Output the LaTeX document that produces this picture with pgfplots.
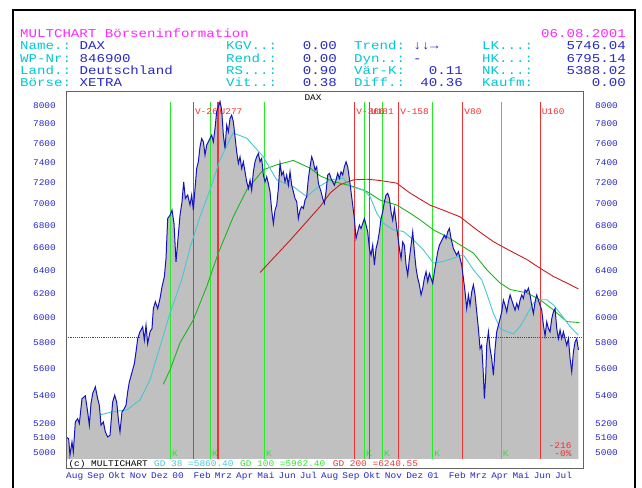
\documentclass[border=0pt]{standalone}
\usepackage{fontspec}
\usepackage{pgfplots}
\usepackage{pgfplotstable}
\pgfplotsset{compat=1.18}
\newfontfamily\hdrfont[FakeStretch=1.18]{Liberation Mono}
\newfontfamily\smfont[FakeStretch=1.09]{Liberation Mono}
\newcommand{\hdr}{\hdrfont\fontsize{12}{14}\selectfont}
\newcommand{\sm}{\smfont\fontsize{8.7}{10}\selectfont}
\definecolor{mcMag}{RGB}{255,40,255}
\definecolor{mcCyan}{RGB}{0,200,210}
\definecolor{mcBlue}{RGB}{40,40,200}
\definecolor{mcPrice}{RGB}{20,20,190}
\definecolor{mcGray}{RGB}{192,192,192}
\definecolor{mcGDa}{RGB}{70,200,210}
\definecolor{mcGDb}{RGB}{30,180,30}
\definecolor{mcGDc}{RGB}{200,30,30}
\definecolor{mcVGreen}{RGB}{40,235,40}
\definecolor{mcVRed}{RGB}{240,50,50}
\definecolor{mcFrame}{RGB}{100,100,100}

% DAX close, x = months since 1 Aug 1999
\pgfplotstableread{
m v
0.000 5107
0.125 5095
0.188 4982
0.282 5073
0.345 5005
0.439 5212
0.549 5235
0.627 5200
0.753 5379
0.910 5399
1.020 5283
1.098 5189
1.176 5343
1.255 5416
1.380 5465
1.490 5379
1.569 5331
1.647 5189
1.757 5212
1.851 5142
1.961 5107
2.071 5119
2.196 5355
2.290 5404
2.384 5355
2.478 5212
2.541 5142
2.635 5283
2.745 5307
2.824 5331
2.902 5428
2.980 5502
3.090 5565
3.216 5640
3.294 5730
3.373 5834
3.482 5888
3.608 5928
3.686 5822
3.765 5941
3.843 5795
3.953 5888
4.047 5914
4.110 6076
4.204 6132
4.314 6076
4.424 6160
4.518 6257
4.627 6343
4.706 6502
4.784 6863
4.894 6894
4.988 6942
5.082 6817
5.176 6473
5.271 6680
5.365 6894
5.459 7021
5.537 7213
5.616 7052
5.725 7085
5.835 6990
5.914 7085
5.992 6942
6.071 7148
6.149 7345
6.227 7411
6.306 7563
6.384 7648
6.463 7614
6.541 7479
6.620 7580
6.698 7614
6.776 7648
6.855 7684
6.933 7614
7.012 7753
7.090 7930
7.169 7985
7.247 8039
7.325 7949
7.404 7684
7.482 7546
7.561 7788
7.639 7718
7.718 7859
7.796 7895
7.875 7823
7.953 7666
8.031 7512
8.110 7394
8.188 7462
8.267 7345
8.345 7411
8.424 7312
8.502 7213
8.580 7148
8.659 7229
8.737 7132
8.816 7312
8.894 7411
8.973 7462
9.051 7495
9.129 7411
9.208 7445
9.286 7279
9.365 7213
9.443 7262
9.522 7196
9.600 7116
9.678 6942
9.757 6817
9.835 6942
9.914 6990
9.992 7148
10.071 7394
10.149 7279
10.227 7312
10.306 7213
10.384 7279
10.463 7180
10.541 7312
10.620 7180
10.698 7116
10.776 7052
10.855 7021
10.933 6863
11.012 6942
11.090 6974
11.169 6958
11.247 7037
11.325 7068
11.404 7245
11.482 7361
11.561 7462
11.639 7411
11.718 7328
11.796 7361
11.875 7196
11.953 7148
12.000 7116
12.078 7052
12.157 7005
12.235 7116
12.314 7279
12.392 7295
12.471 7245
12.549 7213
12.627 7180
12.706 7229
12.784 7295
12.863 7245
12.941 7312
13.020 7279
13.098 7361
13.176 7411
13.255 7361
13.333 7245
13.412 7116
13.490 6990
13.569 6863
13.647 6680
13.725 6741
13.804 6802
13.882 6771
13.961 6817
14.039 6863
14.118 6802
14.196 6741
14.275 6590
14.353 6531
14.431 6620
14.510 6445
14.588 6590
14.667 6650
14.745 6741
14.824 6863
14.902 6926
14.980 7021
15.059 7085
15.137 7101
15.216 7052
15.294 6926
15.373 6848
15.451 6958
15.529 6832
15.608 6710
15.686 6590
15.765 6502
15.843 6650
15.922 6620
16.000 6445
16.078 6357
16.157 6502
16.235 6620
16.314 6741
16.392 6561
16.471 6416
16.549 6331
16.627 6274
16.706 6189
16.784 6246
16.863 6331
16.941 6386
17.020 6300
17.098 6371
17.176 6331
17.255 6286
17.333 6386
17.412 6473
17.490 6561
17.569 6620
17.647 6650
17.725 6680
17.804 6710
17.882 6680
17.961 6741
18.039 6771
18.118 6680
18.227 6590
18.306 6561
18.384 6531
18.463 6561
18.541 6502
18.620 6445
18.698 6331
18.776 6215
18.855 6076
18.933 6189
19.012 6104
19.090 6215
19.169 6274
19.247 6189
19.325 6049
19.404 5914
19.482 5755
19.561 5781
19.639 5552
19.686 5379
19.749 5552
19.796 5781
19.875 5888
19.953 5755
20.031 5678
20.110 5552
20.188 5755
20.267 5888
20.345 5941
20.424 5994
20.502 6049
20.580 6146
20.659 6104
20.737 6049
20.816 6132
20.894 6189
20.973 6146
21.051 6104
21.129 6063
21.208 6118
21.286 6076
21.365 6146
21.443 6189
21.522 6160
21.600 6232
21.678 6215
21.757 6246
21.835 6189
21.914 6104
21.992 6035
22.071 6132
22.149 6189
22.227 6146
22.306 6104
22.384 6063
22.463 5941
22.541 5856
22.620 5968
22.698 5914
22.776 5888
22.855 5994
22.933 6049
23.012 6076
23.090 5914
23.169 5834
23.247 5902
23.325 5834
23.404 5888
23.482 5834
23.561 5781
23.639 5834
23.718 5678
23.796 5578
23.875 5730
23.953 5809
24.031 5834
24.110 5746
}\price

% GD 38
\pgfplotstableread{
m v
1.600 5262
2.212 5285
2.856 5297
3.482 5369
3.953 5517
4.424 5772
4.894 6038
5.445 6317
5.835 6597
6.306 6881
6.776 7135
7.247 7432
7.859 7705
8.504 7652
9.271 7465
9.915 7232
10.682 7167
11.327 7070
11.798 7152
12.424 7232
13.049 7249
13.365 7167
13.991 7135
14.306 7070
14.621 6914
14.932 6821
15.402 6759
15.873 6744
16.344 6668
16.814 6578
17.285 6462
17.755 6476
18.226 6505
18.696 6534
19.167 6404
19.562 6317
19.798 6199
20.108 6038
20.424 5917
20.739 5890
21.049 5872
21.365 5930
21.680 6024
21.991 6121
22.306 6149
22.621 6149
22.932 6107
23.247 6038
23.718 5930
24.108 5860
}\gda

% GD 100
\pgfplotstableread{
m v
4.579 5485
4.894 5592
5.365 5801
5.991 5984
6.621 6260
7.167 6550
7.873 6881
8.504 7135
9.285 7332
9.915 7381
10.696 7425
11.482 7348
11.953 7271
12.579 7216
13.520 7167
14.151 7119
14.776 7037
15.562 6990
16.188 6914
16.659 6851
17.285 6759
17.915 6698
18.541 6623
19.167 6550
19.798 6404
20.424 6290
20.894 6235
21.680 6207
22.306 6149
22.932 6065
23.562 5970
24.155 5962
}\gdb

% GD 200
\pgfplotstableread{
m v
9.129 6380
10.541 6663
11.953 6974
12.424 7104
12.894 7184
13.520 7232
14.151 7239
14.776 7226
15.562 7200
16.188 7104
17.129 6988
17.755 6941
18.541 6879
19.327 6759
20.108 6652
20.739 6586
21.680 6493
22.306 6417
22.932 6346
23.562 6290
24.108 6240
}\gdc

\begin{document}
\begin{tikzpicture}
\useasboundingbox (0,0) rectangle (642bp,-488bp);
\fill[white] (0,0) rectangle (642bp,-488bp);
\draw[black, line width=1.5bp] (13bp,-488bp) -- (13bp,-10bp) -- (635bp,-10bp) -- (635bp,-488bp);

% header
\newcommand{\hl}[4]{\node[anchor=base west,inner sep=0pt,text=#3,font=\hdr] at (#1bp,-#2bp) {#4};}
\newcommand{\hr}[4]{\node[anchor=base east,inner sep=0pt,text=#3,font=\hdr] at (#1bp,-#2bp) {#4};}
\hl{20}{37.3}{mcMag}{MULTCHART Börseninformation}
\hr{626}{37.3}{mcMag}{06.08.2001}
\hl{20}{49.5}{mcCyan}{Name.:}  \hl{79.5}{49.5}{mcBlue}{DAX}
\hl{20}{62.3}{mcCyan}{WP-Nr:}  \hl{79.5}{62.3}{mcBlue}{846900}
\hl{20}{74.7}{mcCyan}{Land.:}  \hl{79.5}{74.7}{mcBlue}{Deutschland}
\hl{20}{86.5}{mcCyan}{Börse:}  \hl{79.5}{86.5}{mcBlue}{XETRA}
\hl{226}{49.5}{mcCyan}{KGV..:} \hr{337}{49.5}{mcBlue}{0.00}
\hl{226}{62.3}{mcCyan}{Rend.:} \hr{337}{62.3}{mcBlue}{0.00}
\hl{226}{74.7}{mcCyan}{RS...:} \hr{337}{74.7}{mcBlue}{0.90}
\hl{226}{86.5}{mcCyan}{Vit..:} \hr{337}{86.5}{mcBlue}{0.38}
\hl{354}{49.5}{mcCyan}{Trend:} \hl{413}{49.5}{mcBlue}{↓↓→}
\hl{354}{62.3}{mcCyan}{Dyn..:} \hl{413}{62.3}{mcBlue}{-}
\hl{354}{74.7}{mcCyan}{Vär-K:} \hr{463}{74.7}{mcBlue}{0.11}
\hl{354}{86.5}{mcCyan}{Diff.:} \hr{463}{86.5}{mcBlue}{40.36}
\hl{482}{49.5}{mcCyan}{LK...:} \hr{626}{49.5}{mcBlue}{5746.04}
\hl{482}{62.3}{mcCyan}{HK...:} \hr{626}{62.3}{mcBlue}{6795.14}
\hl{482}{74.7}{mcCyan}{NK...:} \hr{626}{74.7}{mcBlue}{5388.02}
\hl{482}{86.5}{mcCyan}{Kaufm:} \hr{626}{86.5}{mcBlue}{0.00}

\begin{axis}[
  at={(66bp,-469bp)}, anchor=south west,
  scale only axis, width=517.3bp, height=377.3bp,
  xmin=0, xmax=24.34, ymode=log, ymin=4891, ymax=8148,
  ytick={5000,5100,5200,5400,5600,5800,6000,6200,6400,6600,6800,7000,7200,7400,7600,7800,8000},
  yticklabels={5000,5100,5200,5400,5600,5800,6000,6200,6400,6600,6800,7000,7200,7400,7600,7800,8000},
  major tick length=0pt, minor tick num=0,
  axis on top,
  axis line style={mcFrame, line width=1bp},
  yticklabel pos=left,
  yticklabel style={anchor=east, inner sep=0pt, xshift=-10bp, font=\sm, text=mcBlue},
  xtick={0,1,...,23},
  xticklabels={Aug,Sep,Okt,Nov,Dez,00,Feb,Mrz,Apr,Mai,Jun,Jul,Aug,Sep,Okt,Nov,Dez,01,Feb,Mrz,Apr,Mai,Jun,Jul},
  xticklabel style={anchor=base west, inner sep=0pt, yshift=-9.3bp, font=\sm, text=mcBlue},
]
\addplot[draw=none, fill=mcGray] table[x=m,y=v] {\price} \closedcycle;
\fill[white] (axis cs:0,4891) rectangle (axis cs:24.34,4958);
\addplot[red, densely dotted, line width=1.2bp] coordinates {(0,5845) (3.48,5845)};
\addplot[red, densely dotted, line width=1.2bp] coordinates {(19.48,5845) (24.24,5845)};
\pgfplotsinvokeforeach{4.908,6.791,9.332,14.038,14.885,17.256,20.471}{
  \addplot[mcVGreen, line width=1.1bp] coordinates {(#1,4958) (#1,8039)};
  \node[anchor=west, inner sep=0pt, xshift=1.5bp, text=mcVGreen, font=\sm] at (axis cs:#1,4996) {K};
}
\pgfplotsinvokeforeach{5.991,7.153,13.586,14.273,15.656,18.668,22.306}{
  \addplot[mcVRed, line width=1.1bp] coordinates {(#1,4958) (#1,8039)};
}
\node[anchor=west, inner sep=0pt, xshift=1.5bp, text=mcVRed, font=\sm] at (axis cs:5.991,7935) {V-26};
\node[anchor=west, inner sep=0pt, xshift=1.5bp, text=mcVRed, font=\sm] at (axis cs:7.153,7935) {U277};
\node[anchor=west, inner sep=0pt, xshift=1.5bp, text=mcVRed, font=\sm] at (axis cs:13.586,7935) {V-366};
\node[anchor=west, inner sep=0pt, xshift=1.5bp, text=mcVRed, font=\sm] at (axis cs:14.273,7935) {U181};
\node[anchor=west, inner sep=0pt, xshift=1.5bp, text=mcVRed, font=\sm] at (axis cs:15.656,7935) {V-158};
\node[anchor=west, inner sep=0pt, xshift=1.5bp, text=mcVRed, font=\sm] at (axis cs:18.668,7935) {V80};
\node[anchor=west, inner sep=0pt, xshift=1.5bp, text=mcVRed, font=\sm] at (axis cs:22.306,7935) {U160};
\addplot[mcGDc, line width=0.9bp] table[x=m,y=v] {\gdc};
\addplot[mcGDb, line width=0.9bp] table[x=m,y=v] {\gdb};
\addplot[mcGDa, line width=0.9bp] table[x=m,y=v] {\gda};
\addplot[mcPrice, line width=1bp] table[x=m,y=v] {\price};
\end{axis}

\begin{axis}[
  at={(66bp,-469bp)}, anchor=south west,
  scale only axis, width=517.3bp, height=377.3bp,
  xmin=0, xmax=24.34, ymode=log, ymin=4891, ymax=8148,
  ytick={5000,5100,5200,5400,5600,5800,6000,6200,6400,6600,6800,7000,7200,7400,7600,7800,8000},
  yticklabels={5000,5100,5200,5400,5600,5800,6000,6200,6400,6600,6800,7000,7200,7400,7600,7800,8000},
  major tick length=0pt, minor tick num=0,
  hide x axis,
  axis y line*=right,
  y axis line style={draw=none},
  yticklabel style={anchor=west, inner sep=0pt, xshift=11.7bp, font=\sm, text=mcBlue},
]
\addplot[draw=none] coordinates {(1,5500) (2,6000)};
\end{axis}

% texts inside plot
\node[inner sep=0pt, font=\sm, text=black] at (313bp,-97.7bp) {DAX};
\node[anchor=west, inner sep=0pt, font=\sm, text=black] at (68.3bp,-464bp) {(c) MULTICHART};
\node[anchor=west, inner sep=0pt, font=\sm, text=mcGDa] at (154bp,-464bp) {GD 38 =5860.40};
\node[anchor=west, inner sep=0pt, font=\sm, text=mcVGreen] at (240bp,-464bp) {GD 100 =5962.40};
\node[anchor=west, inner sep=0pt, font=\sm, text=mcVRed] at (332.7bp,-464bp) {GD 200 =6240.55};
\node[anchor=east, inner sep=0pt, font=\sm, text=mcVRed] at (571.7bp,-445.7bp) {-216};
\node[anchor=east, inner sep=0pt, font=\sm, text=mcVRed] at (571.7bp,-453.3bp) {-0\%};
\end{tikzpicture}
\end{document}
